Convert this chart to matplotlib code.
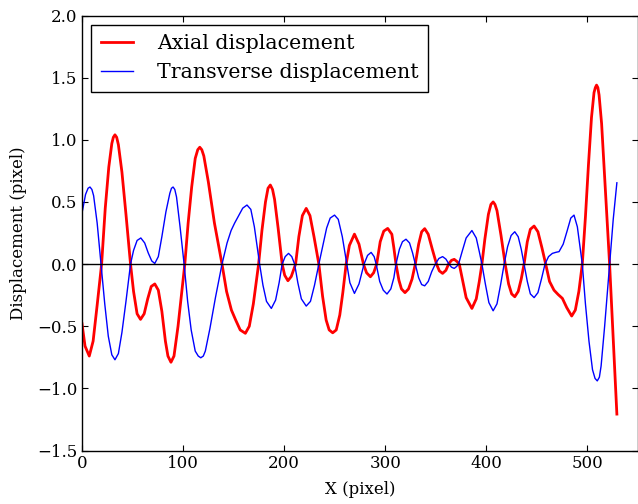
import matplotlib
matplotlib.use("Agg")
import matplotlib.pyplot as plt

plt.rcParams.update({
    "font.family": "DejaVu Serif",
    "font.size": 11,
    "axes.linewidth": 1.0,
    "xtick.direction": "in",
    "ytick.direction": "in",
    "xtick.top": True,
    "ytick.right": True,
    "xtick.major.size": 4,
    "ytick.major.size": 4,
})

# Axial displacement (red)
axial_x = [0, 3, 7.2, 11, 15, 19.4, 23, 26.5, 29.5, 31, 32.6, 34.3, 36, 39.5, 43.5, 48,
           51, 54.5, 57.9, 61.5, 65, 68.5, 72, 75.5, 79, 82.5, 85, 88, 91, 95, 101.7,
           105, 108.5, 112, 114.5, 116.5, 118.5, 120.5, 125, 131, 138.5,
           143, 147.8, 152, 156.5, 161.6, 165.5, 169.5, 174.7,
           178, 181.5, 184, 186.3, 188.5, 190.5, 194, 198, 200.5, 203.7, 207, 211.3,
           214.5, 218, 221.8, 225.5, 229.5, 234.3,
           238, 241.5, 244.5, 248, 251.5, 255, 258, 261.3,
           264.5, 269.5, 274, 278.4, 281.5, 285.3, 288.5, 291.5,
           295, 298.5, 302.4, 306.5, 308.5, 310.6,
           313.5, 316, 319.5, 323, 326.5, 329.7,
           333, 336, 339, 342.5, 346.5, 350.7,
           353.5, 356.7, 360, 362.6, 365.5, 368.2, 371, 373.2,
           376.5, 380, 385.7, 390, 393, 395.6,
           398.5, 402, 404.5, 406.7, 408.5, 410.5, 414.5, 418.6,
           422, 425, 428.1, 431.5, 434.5, 437.3,
           440.5, 443.5, 447.2, 451, 455, 458.7,
           462.5, 466.9, 471, 475.2, 479.5, 484.4, 488, 491.5, 494.9,
           498, 501, 504, 506.5, 507.8, 509, 510.3, 511.5, 514, 517, 521.9, 525.5, 529.1]
axial_y = [-0.48, -0.66, -0.74, -0.62, -0.33, 0, 0.45, 0.78, 0.97, 1.02, 1.04, 1.02, 0.96, 0.74, 0.40, 0,
           -0.22, -0.40, -0.445, -0.40, -0.28, -0.18, -0.16, -0.21, -0.38, -0.62, -0.74, -0.79, -0.74, -0.50, 0,
           0.33, 0.62, 0.85, 0.92, 0.94, 0.92, 0.87, 0.66, 0.33, 0,
           -0.22, -0.37, -0.45, -0.53, -0.557, -0.50, -0.32, 0,
           0.27, 0.50, 0.61, 0.636, 0.60, 0.52, 0.29, 0, -0.09, -0.134, -0.10, 0,
           0.22, 0.39, 0.448, 0.39, 0.22, 0,
           -0.26, -0.45, -0.53, -0.553, -0.53, -0.41, -0.23, 0,
           0.15, 0.241, 0.16, 0, -0.07, -0.102, -0.07, 0,
           0.18, 0.265, 0.287, 0.24, 0.13, 0,
           -0.13, -0.20, -0.23, -0.20, -0.12, 0,
           0.16, 0.26, 0.285, 0.24, 0.12, 0,
           -0.055, -0.075, -0.05, 0, 0.03, 0.038, 0.02, 0,
           -0.13, -0.27, -0.357, -0.28, -0.14, 0,
           0.20, 0.40, 0.48, 0.50, 0.48, 0.43, 0.23, 0,
           -0.16, -0.24, -0.263, -0.22, -0.12, 0,
           0.18, 0.28, 0.306, 0.26, 0.13, 0,
           -0.14, -0.21, -0.245, -0.276, -0.35, -0.418, -0.37, -0.22, 0,
           0.38, 0.80, 1.18, 1.38, 1.42, 1.44, 1.42, 1.36, 1.13, 0.70, 0, -0.60, -1.207]

# Transverse displacement (blue)
trans_x = [0, 3.5, 6, 7.9, 9.8, 11.5, 15, 18.8, 22.5, 26, 29.5, 32.6, 36, 39.5, 43.5, 48,
           51, 54.5, 58.2, 62, 65.5, 69, 72, 75.5, 79, 83, 86.9, 88.5, 90.1, 91.8, 93.5, 97, 101,
           104.5, 108, 112, 115, 117.5, 120, 122, 126.5, 132, 138.5,
           143.5, 147.5, 151, 155, 159, 163.2, 167, 170.5, 175.7,
           179, 182.5, 187.3, 191.5, 195, 198, 201, 204.3, 207.5, 210.3,
           213.5, 217, 221.8, 226, 230, 234.3,
           238.5, 242, 245.5, 249.8, 253.5, 257.5, 261.9,
           265, 269.5, 274, 279, 282.5, 286, 289, 291,
           294.5, 298, 301.7, 305.5, 308.5, 310.6,
           314, 317, 320.5, 324, 327, 329.7,
           333, 336, 339, 342.5, 346, 349.5,
           353, 356.7, 360, 363, 365.5, 368.2, 370.5, 372.5,
           376, 380, 385.7, 390, 393, 395.6,
           399, 402.5, 406.7, 410.5, 414, 417.6,
           421, 424.5, 428.1, 431.5, 434.5, 437.3,
           440.5, 443.5, 447.2, 451, 454.5, 458,
           461.5, 465.3, 469, 471.9, 476, 480, 483.5, 486.7, 490, 492.5, 494.9,
           498, 501.5, 505, 507.5, 509.7, 511.8, 513.5, 517, 521.9, 525.5, 529.1]
trans_y = [0.41, 0.56, 0.61, 0.62, 0.60, 0.55, 0.33, 0, -0.32, -0.58, -0.73, -0.77, -0.72, -0.55, -0.30, 0,
           0.11, 0.19, 0.21, 0.17, 0.09, 0.025, 0.005, 0.06, 0.22, 0.42, 0.57, 0.61, 0.62, 0.60, 0.54, 0.30, 0,
           -0.30, -0.53, -0.70, -0.74, -0.754, -0.74, -0.70, -0.52, -0.27, 0,
           0.17, 0.27, 0.33, 0.39, 0.45, 0.475, 0.44, 0.30, 0,
           -0.17, -0.30, -0.357, -0.29, -0.15, 0, 0.06, 0.086, 0.06, 0,
           -0.15, -0.28, -0.338, -0.30, -0.17, 0,
           0.16, 0.29, 0.37, 0.394, 0.36, 0.22, 0,
           -0.15, -0.236, -0.16, 0, 0.07, 0.094, 0.06, 0,
           -0.14, -0.21, -0.241, -0.20, -0.11, 0,
           0.12, 0.18, 0.20, 0.17, 0.09, 0,
           -0.11, -0.165, -0.175, -0.14, -0.06, 0,
           0.045, 0.06, 0.04, 0, -0.025, -0.035, -0.02, 0,
           0.10, 0.21, 0.27, 0.21, 0.10, 0,
           -0.16, -0.31, -0.376, -0.32, -0.17, 0,
           0.14, 0.23, 0.26, 0.22, 0.12, 0,
           -0.14, -0.24, -0.27, -0.23, -0.12, 0,
           0.06, 0.086, 0.095, 0.10, 0.16, 0.27, 0.37, 0.394, 0.30, 0.15, 0,
           -0.32, -0.62, -0.85, -0.92, -0.94, -0.91, -0.82, -0.50, 0, 0.36, 0.654]

zero_x = [0, 530]
zero_y = [0, 0]

x_ticks = [0, 100, 200, 300, 400, 500]
y_ticks = [-1.5, -1.0, -0.5, 0.0, 0.5, 1.0, 1.5, 2.0]


def main():
    fig = plt.figure(figsize=(6.38, 5.04), dpi=100)
    ax = fig.add_axes([82 / 638, (504 - 450.5) / 504, 556 / 638, 435 / 504])

    ax.plot(axial_x, axial_y, color="red", linewidth=2, label="Axial displacement")
    ax.plot(trans_x, trans_y, color="blue", linewidth=1, label="Transverse displacement")
    ax.plot(zero_x, zero_y, color="black", linewidth=1)

    ax.set_xlim(0, 550)
    ax.set_ylim(-1.5, 2.0)
    ax.set_xticks(x_ticks)
    ax.set_yticks(y_ticks)
    ax.tick_params(labelsize=12)
    ax.set_xlabel("X (pixel)", fontsize=12, labelpad=6)
    ax.set_ylabel("Displacement (pixel)", fontsize=12, labelpad=7)

    leg = ax.legend(loc="upper left", fontsize=14.8, fancybox=False,
                    framealpha=1, edgecolor="black", borderaxespad=0.45,
                    borderpad=0.45, labelspacing=0.5, handlelength=1.6,
                    handletextpad=1.15)
    leg.get_frame().set_linewidth(1.0)

    fig.savefig("out.png", dpi=100)
    plt.close(fig)


if __name__ == "__main__":
    main()
